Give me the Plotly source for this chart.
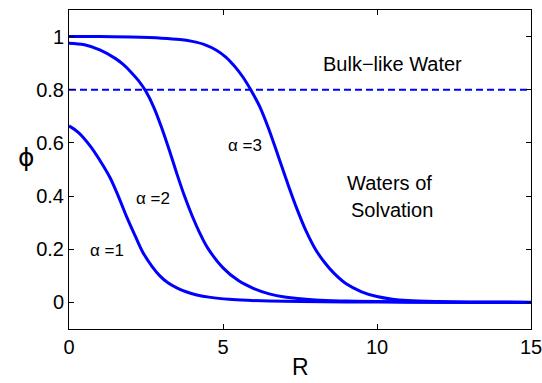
import plotly.graph_objects as go

# --- data ---
R1 = [0, 0.3, 0.68, 1.0, 1.33, 1.6, 1.88, 2.15, 2.4, 2.7, 2.95, 3.2, 3.5, 3.8, 4.15, 4.6, 5.2, 5.8, 6.5, 7.5, 9, 11, 13, 15]
PHI1 = [0.664, 0.64, 0.59, 0.535, 0.47, 0.40, 0.32, 0.25, 0.188, 0.135, 0.1, 0.075, 0.055, 0.04, 0.028, 0.019, 0.012, 0.008, 0.005, 0.003, 0.002, 0.001, 0.0005, 0.0003]

R2 = [0, 0.5, 1.0, 1.5, 1.75, 2.0, 2.25, 2.5, 2.75, 3.0, 3.25, 3.5, 3.75, 4.0, 4.25, 4.5, 5.0, 5.5, 6.0, 6.5, 7.0, 8.0, 9.0, 10, 12, 15]
PHI2 = [0.975, 0.969, 0.95, 0.918, 0.896, 0.868, 0.835, 0.793, 0.735, 0.66, 0.575, 0.485, 0.40, 0.325, 0.26, 0.205, 0.13, 0.082, 0.052, 0.032, 0.02, 0.009, 0.005, 0.003, 0.001, 0.0]

R3 = [0, 1, 2, 3, 3.6, 4.0, 4.4, 4.8, 5.1, 5.4, 5.65, 5.9, 6.2, 6.5, 6.8, 7.1, 7.4, 7.7, 8.0, 8.3, 8.6, 9.0, 9.5, 10, 10.5, 11, 12, 13, 15]
PHI3 = [1.0, 1.0, 0.998, 0.994, 0.989, 0.982, 0.97, 0.948, 0.922, 0.885, 0.847, 0.80, 0.735, 0.648, 0.548, 0.447, 0.352, 0.268, 0.2, 0.15, 0.11, 0.07, 0.04, 0.022, 0.012, 0.007, 0.003, 0.001, 0.0]

THRESHOLD = 0.8
X_TICKS = [0, 5, 10, 15]
Y_TICKS = [0, 0.2, 0.4, 0.6, 0.8, 1]
Y_TICK_LABELS = ["0", "0.2", "0.4", "0.6", "0.8", "1"]

CURVE_LABELS = [("α =1", 1.23, 0.196), ("α =2", 2.73, 0.39), ("α =3", 5.71, 0.59)]
REGION_LABELS = [("Bulk−like Water", 10.5, 0.898), ("Waters of", 10.39, 0.449), ("Solvation", 10.49, 0.347)]

BLUE = "#0000FF"
FONT = "Liberation Sans, Arial, Helvetica, sans-serif"

fig = go.Figure()
for rr, pp in [(R1, PHI1), (R2, PHI2), (R3, PHI3)]:
    fig.add_trace(go.Scatter(x=rr, y=pp, mode="lines",
                             line=dict(color=BLUE, width=3, shape="spline", smoothing=1.0),
                             showlegend=False, hoverinfo="skip"))

fig.add_trace(go.Scatter(x=[0, 15], y=[THRESHOLD, THRESHOLD], mode="lines",
                         line=dict(color=BLUE, width=2, dash="7px,4px"), showlegend=False, hoverinfo="skip"))

annotations = []
for txt, x, y in CURVE_LABELS:
    annotations.append(dict(text=txt, x=x, y=y, xref="x", yref="y", showarrow=False,
                            font=dict(size=17, color="black", family=FONT)))
for txt, x, y in REGION_LABELS:
    annotations.append(dict(text=txt, x=x, y=y, xref="x", yref="y", showarrow=False,
                            font=dict(size=20, color="black", family=FONT)))
annotations.append(dict(text="R", x=0.5, y=-0.12, xref="paper", yref="paper", showarrow=False,
                        xanchor="center", yanchor="middle", font=dict(size=23, color="black", family=FONT)))
annotations.append(dict(text="ϕ", x=-0.091, y=0.539, xref="paper", yref="paper", showarrow=False,
                        xanchor="center", yanchor="middle",
                        font=dict(size=25, color="black", family="DejaVu Sans, Liberation Sans, sans-serif")))

fig.update_layout(
    width=542, height=383,
    margin=dict(l=69, r=11, t=10, b=54),
    paper_bgcolor="white", plot_bgcolor="white",
    annotations=annotations,
    font=dict(family=FONT, color="black", size=20),
)
fig.update_xaxes(range=[0, 15], tickvals=X_TICKS, ticks="inside", ticklen=5, tickcolor="black",
                 showline=True, linecolor="black", linewidth=1, mirror="ticks", showgrid=False, zeroline=False,
                 ticklabeloverflow="allow", automargin=False,
                 tickfont=dict(size=20, family=FONT, color="black"))
fig.update_yaxes(range=[-0.1, 1.1], tickvals=Y_TICKS, ticktext=Y_TICK_LABELS, ticks="inside", ticklen=5,
                 tickcolor="black", showline=True, linecolor="black", linewidth=1, mirror="ticks",
                 showgrid=False, zeroline=False, automargin=False,
                 tickfont=dict(size=20, family=FONT, color="black"))

fig.write_html("out.html")
